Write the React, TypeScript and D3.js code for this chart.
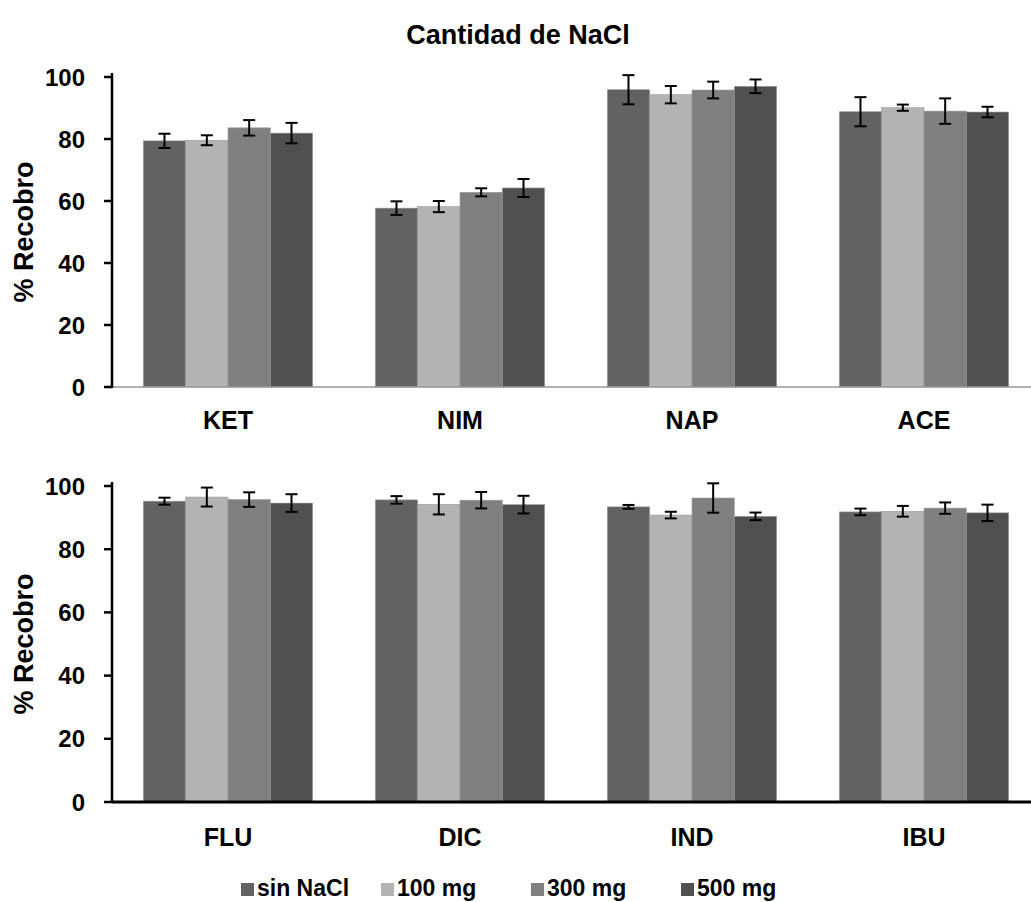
import React from "react";
import * as d3 from "d3";

const series = ["sin NaCl", "100 mg", "300 mg", "500 mg"];
const colors = ["#626262", "#b3b3b3", "#808080", "#505050"];

const topCategories = ["KET", "NIM", "NAP", "ACE"];
const topValues = [
  [79.4, 79.6, 83.6, 81.9],
  [57.7, 58.2, 62.8, 64.2],
  [95.9, 94.3, 95.8, 97.0],
  [88.8, 90.1, 89.0, 88.7],
];
const topErrors = [
  [2.3, 1.6, 2.5, 3.3],
  [2.2, 1.8, 1.3, 2.9],
  [4.7, 2.8, 2.7, 2.2],
  [4.7, 1.0, 4.1, 1.7],
];

const bottomCategories = ["FLU", "DIC", "IND", "IBU"];
const bottomValues = [
  [95.2, 96.5, 95.7, 94.6],
  [95.6, 94.2, 95.5, 94.1],
  [93.4, 90.8, 96.2, 90.4],
  [91.8, 92.0, 93.0, 91.5],
];
const bottomErrors = [
  [1.1, 3.0, 2.3, 2.8],
  [1.2, 3.2, 2.6, 2.8],
  [0.6, 1.05, 4.65, 1.2],
  [1.05, 1.7, 1.8, 2.6],
];

const yTicks = [0, 20, 40, 60, 80, 100];

const FONT = "'Liberation Sans', Arial, sans-serif";

type PanelProps = {
  categories: string[];
  values: number[][];
  errors: number[][];
  y0: number;
  y100: number;
  heavyAxis: boolean;
  labelY: number;
};

function Panel({ categories, values, errors, y0, y100, heavyAxis, labelY }: PanelProps) {
  const left = 112;
  const bandW = 232;
  const x = d3
    .scaleBand<string>()
    .domain(categories)
    .range([left, left + bandW * categories.length])
    .paddingInner(0.27)
    .paddingOuter(0.135);
  const y = d3.scaleLinear().domain([0, 100]).range([y0, y100]);
  const inner = d3.scaleBand<number>().domain(d3.range(series.length)).range([0, x.bandwidth()]);
  const bw = inner.bandwidth();
  const cap = 6;

  return (
    <g>
      {categories.map((c, ci) => (
        <g key={c}>
          {values[ci].map((v, si) => {
            const bx = (x(c) as number) + (inner(si) as number);
            return (
              <rect
                key={si}
                x={bx}
                y={y(v)}
                width={bw}
                height={y(0) - y(v)}
                fill={colors[si]}
                stroke="#9a9a9a"
                strokeWidth={0.6}
              />
            );
          })}
          {values[ci].map((v, si) => {
            const cx = (x(c) as number) + (inner(si) as number) + bw / 2;
            const e = errors[ci][si];
            return (
              <g key={"e" + si} stroke="#000" strokeWidth={2}>
                <line x1={cx} x2={cx} y1={y(v + e)} y2={y(v - e)} />
                <line x1={cx - cap} x2={cx + cap} y1={y(v + e)} y2={y(v + e)} />
                <line x1={cx - cap} x2={cx + cap} y1={y(v - e)} y2={y(v - e)} />
              </g>
            );
          })}
          <text
            x={(x(c) as number) + x.bandwidth() / 2}
            y={labelY}
            textAnchor="middle"
            fontFamily={FONT}
            fontWeight="bold"
            fontSize={25}
            fill="#000"
          >
            {c}
          </text>
        </g>
      ))}
      <line
        x1={left}
        x2={1031}
        y1={y(0)}
        y2={y(0)}
        stroke={heavyAxis ? "#000" : "#999"}
        strokeWidth={heavyAxis ? 3 : 1.5}
      />
      <line x1={left} x2={left} y1={y(0) + 1} y2={y(100) - 4} stroke="#000" strokeWidth={2.5} />
      {yTicks.map((t) => (
        <g key={t}>
          <line x1={left - 8} x2={left} y1={y(t)} y2={y(t)} stroke="#000" strokeWidth={2.5} />
          <text
            x={85}
            y={y(t) + 8.5}
            textAnchor="end"
            fontFamily={FONT}
            fontWeight="bold"
            fontSize={24}
            fill="#000"
          >
            {t}
          </text>
        </g>
      ))}
      <text
        transform={`translate(33,${(y(0) + y(100)) / 2}) rotate(-90)`}
        textAnchor="middle"
        fontFamily={FONT}
        fontWeight="bold"
        fontSize={27}
        fill="#000"
      >
        % Recobro
      </text>
    </g>
  );
}

export default function App() {
  const legendPos = (i: number) => (i === 0 ? 241 : 231 + 150 * i);
  return (
    <svg width={1031} height={902} style={{ position: "absolute", left: 0, top: 0 }}>
      <rect x={0} y={0} width={1031} height={902} fill="#fff" />
      <text
        x={518}
        y={44}
        textAnchor="middle"
        fontFamily={FONT}
        fontWeight="bold"
        fontSize={27}
        fill="#000"
      >
        Cantidad de NaCl
      </text>
      <Panel
        categories={topCategories}
        values={topValues}
        errors={topErrors}
        y0={387}
        y100={77}
        heavyAxis={false}
        labelY={429}
      />
      <Panel
        categories={bottomCategories}
        values={bottomValues}
        errors={bottomErrors}
        y0={802}
        y100={486}
        heavyAxis={true}
        labelY={846}
      />
      {series.map((s, i) => (
        <g key={s} transform={`translate(${legendPos(i)},0)`}>
          <rect x={0} y={883} width={13} height={13} fill={colors[i]} />
          <text x={16} y={896} fontFamily={FONT} fontWeight="bold" fontSize={23} fill="#000">
            {s}
          </text>
        </g>
      ))}
    </svg>
  );
}
